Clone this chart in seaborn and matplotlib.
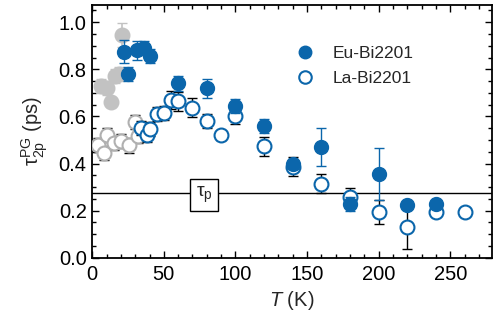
import numpy as np
import pandas as pd
import matplotlib
matplotlib.use("Agg")
import matplotlib.pyplot as plt
from matplotlib.ticker import MultipleLocator, FormatStrFormatter
from matplotlib.lines import Line2D
import seaborn as sns

# Eu-Bi2201 (filled)
eu_T = [22, 25, 31, 36, 40, 60, 80, 100, 120, 140, 160, 180, 200, 220, 240]
eu_tau = [0.875, 0.78, 0.88, 0.89, 0.855, 0.74, 0.72, 0.645, 0.56, 0.40, 0.47, 0.23, 0.355, 0.225, 0.23]
eu_err = [0.05, 0.03, 0.04, 0.03, 0.03, 0.03, 0.04, 0.03, 0.03, 0.02, 0.08, 0.03, 0.11, 0.01, 0.01]

# La-Bi2201 (open)
la_T = [34, 38, 40, 45, 50, 55, 60, 70, 80, 90, 100, 120, 140, 160, 180, 200, 220, 240, 260]
la_tau = [0.552, 0.52, 0.548, 0.612, 0.615, 0.67, 0.665, 0.637, 0.58, 0.52, 0.60, 0.474,
          0.386, 0.315, 0.258, 0.194, 0.129, 0.194, 0.194]
la_err = [0.03, 0.03, 0.03, 0.03, 0.03, 0.04, 0.04, 0.04, 0.03, 0.02, 0.03, 0.04,
          0.04, 0.04, 0.04, 0.05, 0.09, 0.0, 0.0]

# low-temperature points (grey)
gf_T = [6, 10, 13, 16, 19, 21]
gf_tau = [0.73, 0.72, 0.66, 0.77, 0.78, 0.945]
gf_err = [0.03, 0.03, 0.02, 0.03, 0.03, 0.05]

go_T = [4, 8, 10, 15, 20, 26, 30, 32]
go_tau = [0.48, 0.445, 0.523, 0.488, 0.495, 0.477, 0.576, 0.516]
go_err = [0.03, 0.03, 0.03, 0.03, 0.03, 0.03, 0.03, 0.03]

tau_p = 0.277

sns.set_theme(style="ticks")
plt.rcParams["font.family"] = ["Liberation Sans", "DejaVu Sans"]
plt.rcParams["mathtext.fontset"] = "custom"
plt.rcParams["mathtext.rm"] = "Liberation Sans"
plt.rcParams["mathtext.it"] = "Liberation Sans:italic"
plt.rcParams["mathtext.sf"] = "Liberation Sans"

blue = "#0b66ab"
grey = "#c2c2c2"
ms = 100

fig = plt.figure(figsize=(5.01, 3.31), dpi=100)
ax = fig.add_axes([0.184, 0.221, 0.798, 0.764])

ax.axhline(tau_p, color="black", lw=1.0, zorder=1)

# grey filled
ax.errorbar(gf_T, gf_tau, yerr=gf_err, fmt="none", ecolor=grey, elinewidth=1.2, capsize=3.5, zorder=2)
sns.scatterplot(x=gf_T, y=gf_tau, ax=ax, s=ms, color=grey, edgecolor=grey, linewidth=1.5, zorder=3)
# grey open
ax.errorbar(go_T, go_tau, yerr=go_err, fmt="none", ecolor="black", elinewidth=1.0, capsize=3.5, zorder=2)
sns.scatterplot(x=go_T, y=go_tau, ax=ax, s=ms, facecolor="white", edgecolor="#b0b0b0", linewidth=1.5, zorder=3)

# La-Bi2201
ax.errorbar(la_T, la_tau, yerr=la_err, fmt="none", ecolor="black", elinewidth=1.0, capsize=3.5, zorder=4)
sns.scatterplot(x=la_T, y=la_tau, ax=ax, s=ms, facecolor="white", edgecolor=blue, linewidth=1.5, zorder=5)

# Eu-Bi2201
ax.errorbar(eu_T, eu_tau, yerr=eu_err, fmt="none", ecolor=blue, elinewidth=1.0, capsize=3.5, zorder=6)
sns.scatterplot(x=eu_T, y=eu_tau, ax=ax, s=ms, color=blue, edgecolor=blue, linewidth=1.0, zorder=7)

ax.text(78, 0.265, r"$\mathrm{τ}_{\rm p}$", ha="center", va="center", fontsize=14, zorder=8,
        bbox=dict(boxstyle="square,pad=0.3", facecolor="white", edgecolor="black", linewidth=1.0))

ax.set_xlim(0, 279)
ax.set_ylim(0, 1.073)
ax.xaxis.set_major_locator(MultipleLocator(50))
ax.xaxis.set_minor_locator(MultipleLocator(10))
ax.yaxis.set_major_locator(MultipleLocator(0.2))
ax.yaxis.set_minor_locator(MultipleLocator(0.05))
ax.yaxis.set_major_formatter(FormatStrFormatter("%.1f"))
ax.tick_params(which="both", direction="in", top=True, right=True, labelsize=14.5, colors="black", pad=4)
ax.tick_params(axis="x", pad=5)
ax.tick_params(which="major", length=5, width=1.0)
ax.tick_params(which="minor", length=3, width=1.0)
for s in ax.spines.values():
    s.set_linewidth(1.3)
    s.set_color("black")

ax.set_xlabel(r"$T$ (K)", fontsize=14.5, labelpad=4)
ax.set_ylabel(r"$\mathrm{τ}_{\rm 2p}^{\rm PG}$ (ps)", fontsize=14.5, labelpad=6)

handles = [
    Line2D([], [], marker="o", linestyle="none", markersize=9, markerfacecolor=blue, markeredgecolor=blue),
    Line2D([], [], marker="o", linestyle="none", markersize=9, markerfacecolor="white",
           markeredgecolor=blue, markeredgewidth=1.5),
]
ax.legend(handles, ["Eu-Bi2201", "La-Bi2201"], loc="upper left", bbox_to_anchor=(0.468, 0.9),
          frameon=False, fontsize=12.5, handletextpad=1.0, labelspacing=0.55, handlelength=1.2)

fig.savefig("out.png", dpi=100)
